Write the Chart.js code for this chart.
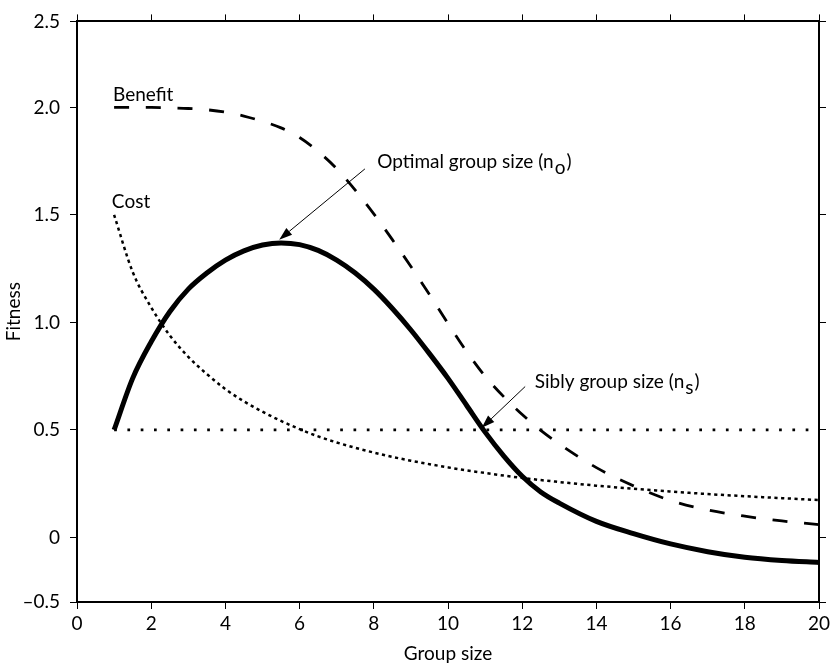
<!DOCTYPE html>
<html>
<head>
<meta charset="utf-8">
<script src="https://cdn.jsdelivr.net/npm/chart.js@4.4.1/dist/chart.umd.min.js"></script>
<style>
  body { margin: 0; background: #fff; }
</style>
</head>
<body>
<canvas id="fitnessChart" width="836" height="667"></canvas>
<script>
// Values (half steps where the curves bend most)
const groupSize = [1, 1.5, 2, 2.5, 3, 3.5, 4, 4.5, 5, 5.5, 6, 6.5, 7, 7.5, 8, 8.5, 9, 9.5, 10, 10.5, 11, 11.5, 12, 12.5, 13,
                   14, 15, 16, 17, 18, 19, 20];
const fitness = [0.50, 0.74, 0.91, 1.05, 1.155, 1.23, 1.29, 1.333, 1.36, 1.37, 1.362, 1.335, 1.29, 1.23, 1.155, 1.065, 0.965, 0.855, 0.74, 0.615, 0.49, 0.38, 0.285, 0.212, 0.16,
                 0.075, 0.018, -0.03, -0.066, -0.092, -0.107, -0.116];
const benefit = [2.0, 2.0, 2.0, 1.998, 1.995, 1.989, 1.978, 1.96, 1.935, 1.905, 1.86, 1.795, 1.715, 1.615, 1.505, 1.385, 1.26, 1.13, 0.995, 0.865, 0.75, 0.655, 0.572, 0.498, 0.435,
                 0.325, 0.24, 0.172, 0.128, 0.099, 0.077, 0.06];
const cost    = [1.50, 1.235, 1.07, 0.94, 0.84, 0.76, 0.69, 0.633, 0.585, 0.542, 0.504, 0.47, 0.442, 0.417, 0.395, 0.375, 0.357, 0.341, 0.326, 0.312, 0.30, 0.288, 0.277, 0.267, 0.258,
                 0.241, 0.227, 0.214, 0.202, 0.192, 0.183, 0.174];

// Horizontal reference line at fitness 0.5
const thresholdX = [1, 20];
const thresholdY = [0.5, 0.5];

// The figure's y axis: end labels sit on the frame edges
const yTickValues = [-0.3, 0, 0.5, 1.0, 1.5, 2.0, 2.4];
const yTickLabels = ['\u20130.5', '0', '0.5', '1.0', '1.5', '2.0', '2.5'];

const FONT = 'Lato';

function toPoints(xs, ys) {
    return xs.map((v, i) => ({ x: v, y: ys[i] }));
}

// Text labels and arrows, in data units
const notes = [
    { text: 'Benefit', x: 0.97, y: 2.03 },
    { text: 'Cost', x: 0.94, y: 1.533 },
    { text: 'Optimal group size (n', sub: 'o', x: 8.09, y: 1.719, from: [7.76, 1.714], to: [5.45, 1.385] },
    { text: 'Sibly group size (n', sub: 's', x: 12.34, y: 0.695, from: [12.08, 0.702], to: [10.91, 0.51] }
];

function drawArrow(ctx, x1, y1, x2, y2) {
    const ang = Math.atan2(y2 - y1, x2 - x1);
    const len = 13, half = 4.5;
    const bx = x2 - len * Math.cos(ang), by = y2 - len * Math.sin(ang);
    ctx.lineWidth = 1;
    ctx.beginPath();
    ctx.moveTo(x1, y1);
    ctx.lineTo(bx, by);
    ctx.stroke();
    ctx.beginPath();
    ctx.moveTo(x2, y2);
    ctx.lineTo(bx + half * Math.sin(ang), by - half * Math.cos(ang));
    ctx.lineTo(bx - half * Math.sin(ang), by + half * Math.cos(ang));
    ctx.closePath();
    ctx.fill();
}

const notesPlugin = {
    id: 'notes',
    afterDatasetsDraw(chart) {
        const ctx = chart.ctx;
        const xs = chart.scales.x, ys = chart.scales.y;
        ctx.save();
        ctx.fillStyle = '#000';
        ctx.strokeStyle = '#000';
        ctx.font = '19px ' + FONT;
        ctx.textBaseline = 'alphabetic';
        ctx.textAlign = 'left';
        notes.forEach(n => {
            const px = xs.getPixelForValue(n.x);
            const py = ys.getPixelForValue(n.y);
            ctx.fillText(n.text, px, py);
            if (n.sub) {
                const w = ctx.measureText(n.text).width;
                ctx.fillText(n.sub, px + w + 1, py + 6);
                const w2 = ctx.measureText(n.sub).width;
                ctx.fillText(')', px + w + w2 + 2, py);
            }
            if (n.from) {
                drawArrow(ctx,
                    xs.getPixelForValue(n.from[0]), ys.getPixelForValue(n.from[1]),
                    xs.getPixelForValue(n.to[0]), ys.getPixelForValue(n.to[1]));
            }
        });
        ctx.restore();
    }
};

const gridOpts = { drawOnChartArea: false, color: '#000', lineWidth: 1, tickLength: 7 };
const borderOpts = { display: true, color: '#000', width: 2 };

function setYTicks(scale) {
    scale.ticks = yTickValues.map(v => ({ value: v }));
}

const ctx = document.getElementById('fitnessChart').getContext('2d');
new Chart(ctx, {
    type: 'line',
    data: {
        datasets: [
            {
                label: 'Fitness',
                data: toPoints(groupSize, fitness),
                borderColor: '#000',
                borderWidth: 5,
                pointRadius: 0,
                cubicInterpolationMode: 'monotone',
                fill: false
            },
            {
                label: 'Benefit',
                data: toPoints(groupSize, benefit),
                borderColor: '#000',
                borderWidth: 2.8,
                borderDash: [15, 16.7],
                pointRadius: 0,
                cubicInterpolationMode: 'monotone',
                fill: false
            },
            {
                label: 'Cost',
                data: toPoints(groupSize, cost),
                borderColor: '#000',
                borderWidth: 2.5,
                borderDash: [3.2, 3.5],
                pointRadius: 0,
                cubicInterpolationMode: 'monotone',
                fill: false
            },
            {
                label: 'Threshold',
                data: toPoints(thresholdX, thresholdY),
                borderColor: '#000',
                borderWidth: 2.7,
                borderDash: [2.7, 10.6],
                pointRadius: 0,
                fill: false
            }
        ]
    },
    options: {
        responsive: false,
        devicePixelRatio: 1,
        animation: false,
        layout: { padding: 0 },
        plugins: {
            legend: { display: false },
            tooltip: { enabled: false }
        },
        scales: {
            x: {
                type: 'linear',
                position: 'bottom',
                min: 0,
                max: 20,
                grid: gridOpts,
                border: borderOpts,
                ticks: { stepSize: 2, color: '#000', padding: 3, font: { family: FONT, size: 19 } },
                title: { display: true, text: 'Group size', color: '#000', padding: { top: 0, bottom: 2 }, font: { family: FONT, size: 19 } },
                afterFit: s => { s.height = 65; }
            },
            x2: {
                type: 'linear',
                position: 'top',
                min: 0,
                max: 20,
                grid: gridOpts,
                border: borderOpts,
                ticks: { stepSize: 2, display: false },
                afterFit: s => { s.height = 15; }
            },
            y: {
                type: 'linear',
                position: 'left',
                min: -0.3,
                max: 2.4,
                grid: gridOpts,
                border: borderOpts,
                afterBuildTicks: setYTicks,
                ticks: {
                    color: '#000',
                    padding: 10,
                    font: { family: FONT, size: 19 },
                    callback: (value, index) => yTickLabels[index]
                },
                title: { display: true, text: 'Fitness', color: '#000', padding: { top: 2, bottom: 0 }, font: { family: FONT, size: 19 } },
                afterFit: s => { s.width = 77; }
            },
            y2: {
                type: 'linear',
                position: 'right',
                min: -0.3,
                max: 2.4,
                grid: gridOpts,
                border: borderOpts,
                afterBuildTicks: setYTicks,
                ticks: { display: false },
                afterFit: s => { s.width = 17; }
            }
        }
    },
    plugins: [notesPlugin]
});
</script>
</body>
</html>
